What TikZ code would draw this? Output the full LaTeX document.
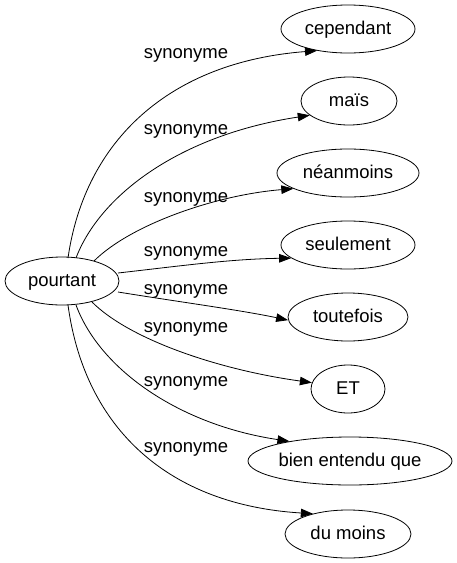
\documentclass[tikz,border=0pt]{standalone}
\usepackage{fontspec}
\setmainfont{Liberation Sans}
\usetikzlibrary{arrows.meta,shapes.geometric}
\begin{document}
\begin{tikzpicture}[x=1pt,y=-1pt,
  every node/.style={font=\fontsize{18.5}{20}\selectfont},
  word/.style={draw,ellipse,line width=0.8pt,inner sep=0pt,minimum height=48pt,text height=13.6pt,text depth=2.4pt},
  lbl/.style={inner sep=0pt,anchor=base},
  link/.style={line width=0.8pt,-{Triangle[length=12pt,width=8.5pt]}}]
\useasboundingbox (0,0) rectangle (456,563);
\node[word,minimum width=114pt] (pourtant) at (62,281) {pourtant};
\node[word,minimum width=134pt] (cependant) at (348,29) {cependant};
\node[word,minimum width=96pt] (mais) at (349,101) {maïs};
\node[word,minimum width=142pt] (neanmoins) at (348,173) {néanmoins};
\node[word,minimum width=134pt] (seulement) at (348,245) {seulement};
\node[word,minimum width=120pt] (toutefois) at (348,317) {toutefois};
\node[word,minimum width=74pt] (et) at (348,389) {ET};
\node[word,minimum width=204pt] (bien) at (350,461) {bien entendu que};
\node[word,minimum width=126pt] (dumoins) at (348,534) {du moins};
\node[lbl] (l1) at (186,58.5) {synonyme};
\node[lbl] (l2) at (186,134.5) {synonyme};
\node[lbl] (l3) at (186,202.5) {synonyme};
\node[lbl] (l4) at (186,256.5) {synonyme};
\node[lbl] (l5) at (186,294.5) {synonyme};
\node[lbl] (l6) at (186,332.5) {synonyme};
\node[lbl] (l7) at (186,386.5) {synonyme};
\node[lbl] (l8) at (186,452.5) {synonyme};
\coordinate (s1) at (68,258);
\coordinate (s2) at (76,258);
\coordinate (s3) at (94,261);
\coordinate (s4) at (118,273);
\coordinate (s5) at (118,292);
\coordinate (s6) at (92,302);
\coordinate (s7) at (76,305);
\coordinate (s8) at (68,305);
\draw[link] (s1) .. controls (85,140) and (170,62) .. (cependant.215);
\draw[link] (s2) .. controls (100,195) and (180,135) .. (mais.200);
\draw[link] (s3) .. controls (130,225) and (215,195) .. (neanmoins.196);
\draw[link] (s4) .. controls (180,266) and (230,259) .. (seulement.193);
\draw[link] (s5) .. controls (180,302) and (240,310) .. (toutefois.183);
\draw[link] (s6) .. controls (130,340) and (220,370) .. (et.170);
\draw[link] (s7) .. controls (100,370) and (180,425) .. (bien.162);
\draw[link] (s8) .. controls (85,430) and (170,505) .. (dumoins.150);
\end{tikzpicture}
\end{document}
